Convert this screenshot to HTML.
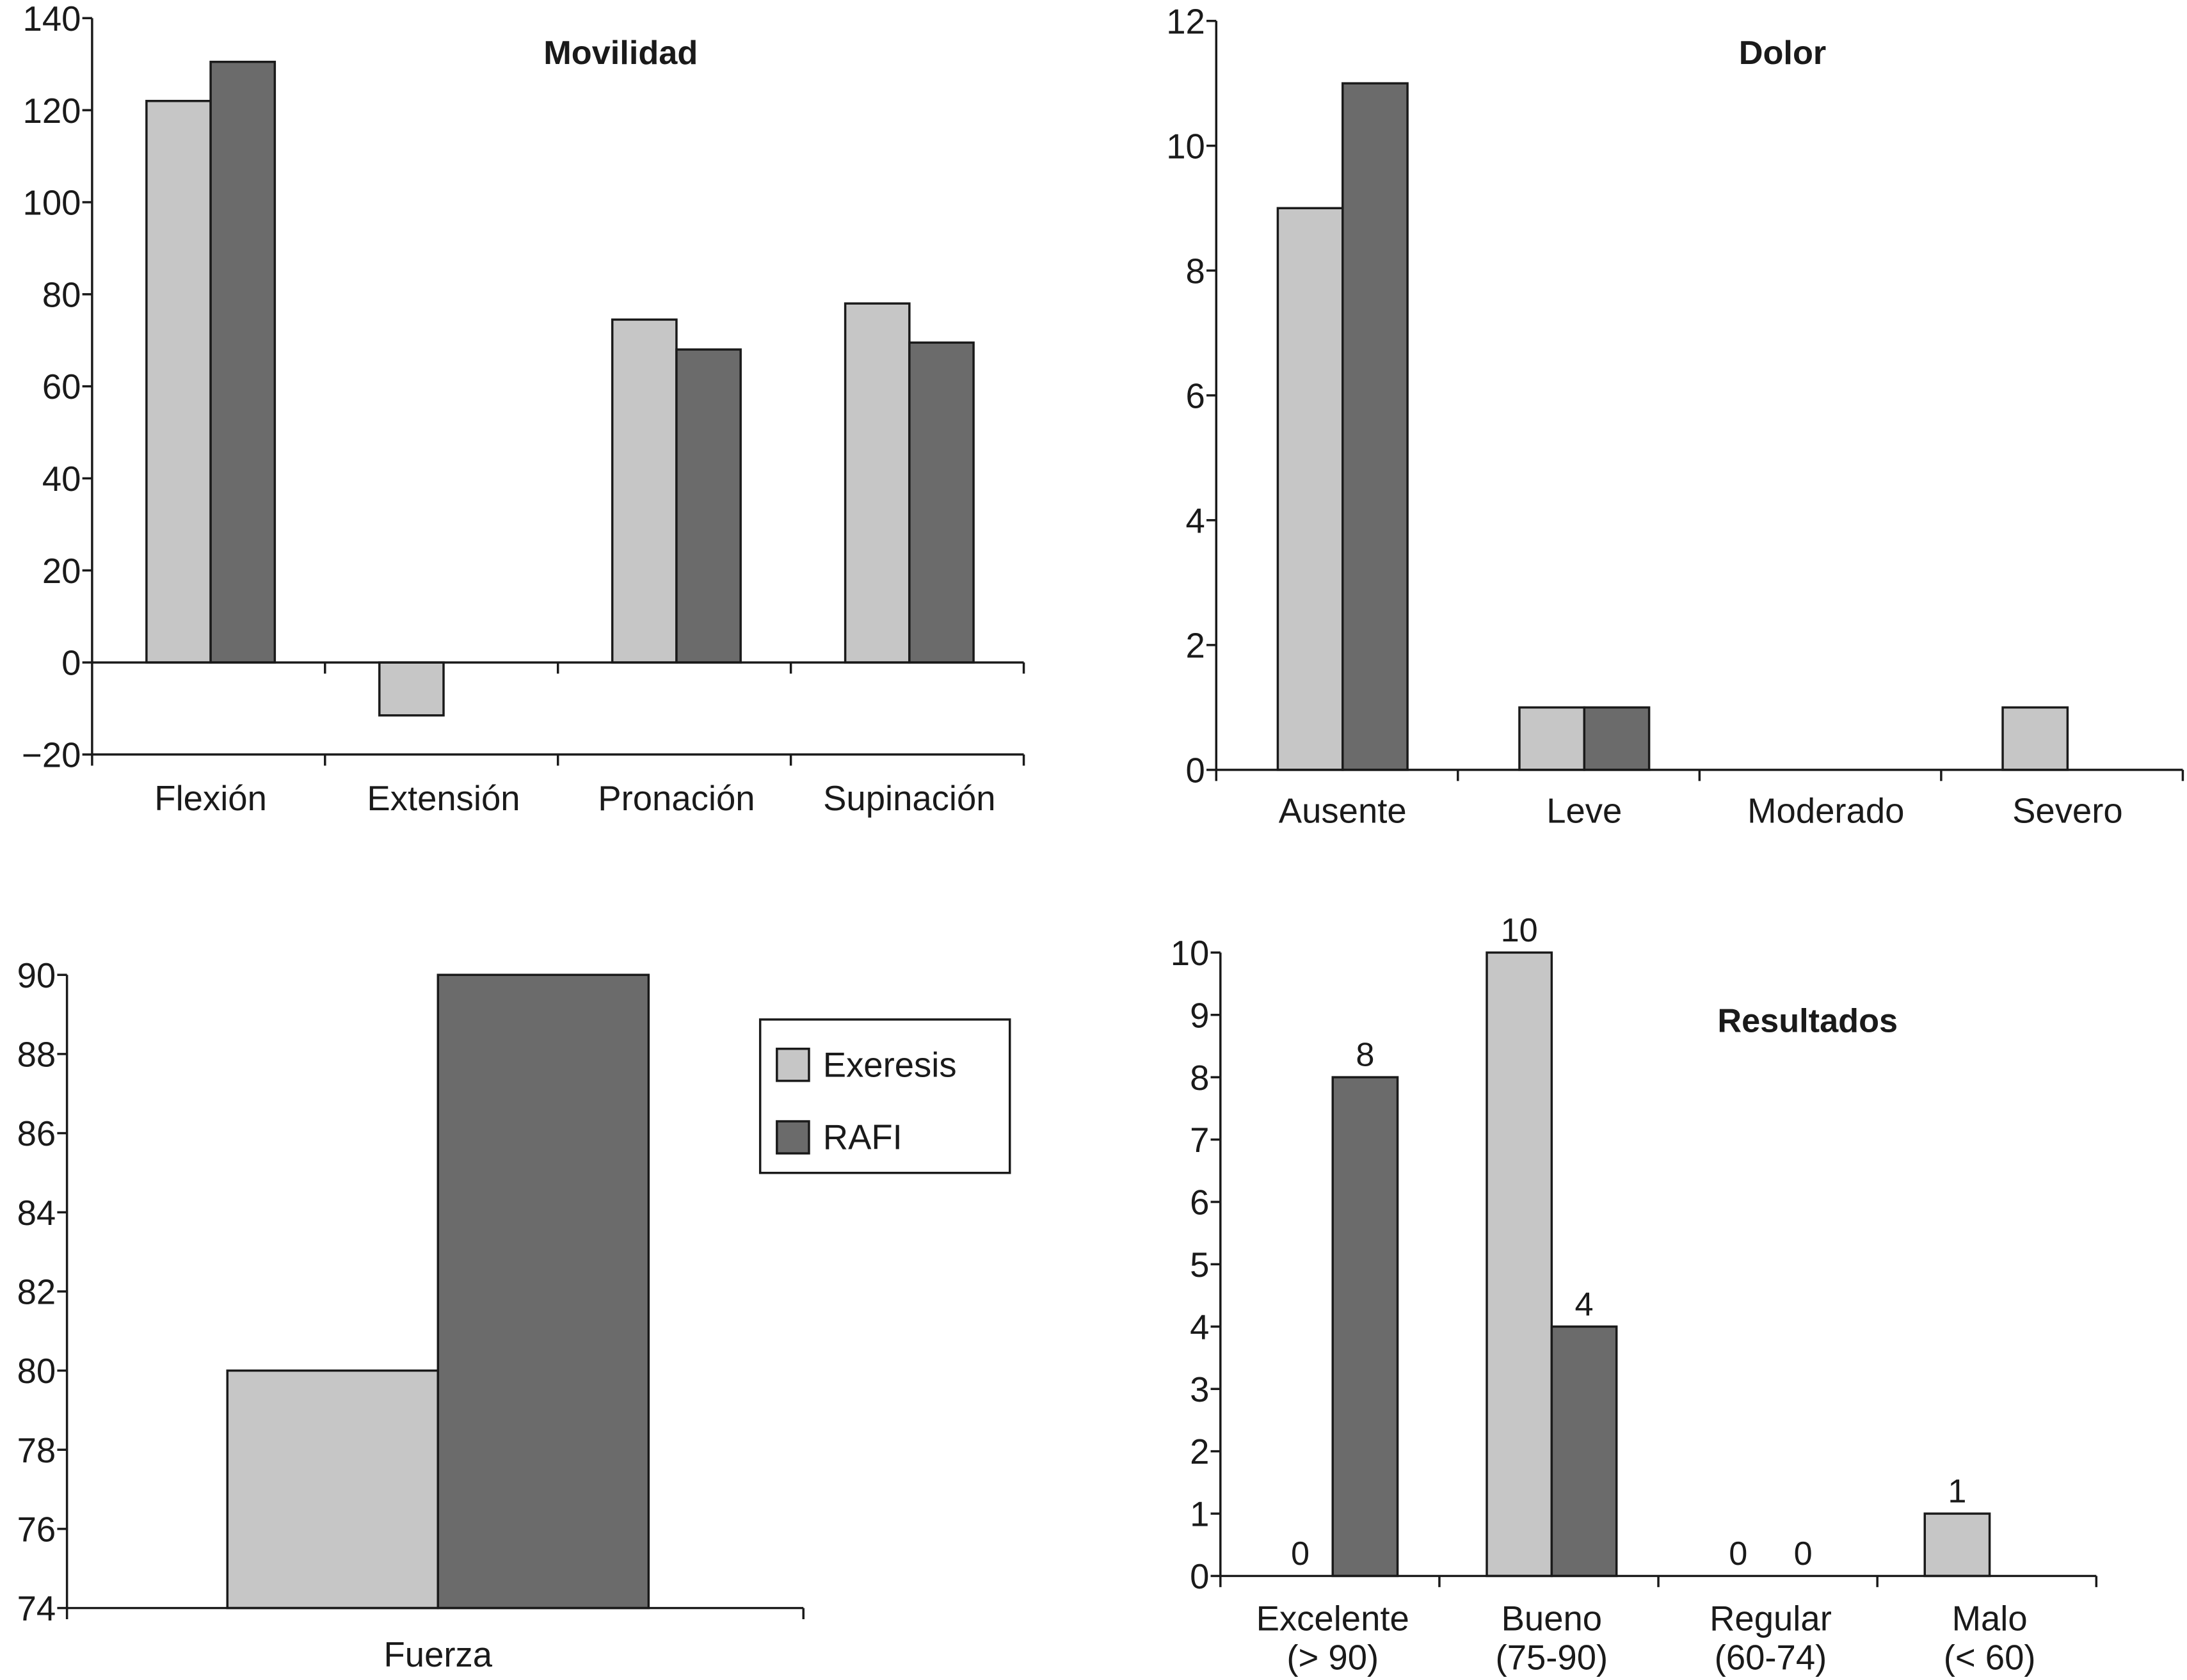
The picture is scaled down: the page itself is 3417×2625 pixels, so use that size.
<!DOCTYPE html>
<html><head><meta charset="utf-8"><style>
html,body{margin:0;padding:0;background:#fff}
svg{display:block}
text{font-family:"Liberation Sans",Arial,sans-serif;fill:#1a1a1a}
</style></head><body>
<svg id="c" width="3417" height="2625" viewBox="0 0 1568 1204.6" xmlns="http://www.w3.org/2000/svg"></svg>
<script>
// Movilidad
const movCats = ["Flexión","Extensión","Pronación","Supinación"];
const movExeresis = [122, -11.5, 74.5, 78];
const movRafi = [130.5, 0, 68, 69.5];
const movTicks = [-20,0,20,40,60,80,100,120,140];
// Dolor
const dolCats = ["Ausente","Leve","Moderado","Severo"];
const dolExeresis = [9, 1, 0, 1];
const dolRafi = [11, 1, 0, 0];
const dolTicks = [0,2,4,6,8,10,12];
// Fuerza
const fueCats = ["Fuerza"];
const fueExeresis = [80];
const fueRafi = [90];
const fueTicks = [74,76,78,80,82,84,86,88,90];
// Resultados
const resCats = [["Excelente","(> 90)"],["Bueno","(75-90)"],["Regular","(60-74)"],["Malo","(< 60)"]];
const resExeresis = [0, 10, 0, 1];
const resRafi = [8, 4, 0, 0];
const resExeresisShown = [true, true, true, true];
const resRafiShown = [true, true, true, false];
const resTicks = [0,1,2,3,4,5,6,7,8,9,10];

const svg = document.getElementById('c');
const NS = "http://www.w3.org/2000/svg";
function el(tag, attrs, parent){
  const e = document.createElementNS(NS, tag);
  for (const k in attrs) e.setAttribute(k, attrs[k]);
  (parent||svg).appendChild(e);
  return e;
}
const LIGHT="#c6c6c6", DARK="#6b6b6b", STROKE="#1a1a1a";

function chart(o){
  const g = el('g', {});
  
  
  const y = v => o.y0 + (v - o.vmin) / (o.vmax - o.vmin) * (o.y1 - o.y0);
  const n = o.cats.length;
  const cw = (o.x1 - o.x0) / n;
  const xc = i => o.x0 + cw * (i + 0.5) + (o.shift || 0);
  const base = y(o.baseVal);
  o.cats.forEach((c, i) => {
    [[o.s1, LIGHT, -1, 'exeresis', o.show1], [o.s2, DARK, 0, 'rafi', o.show2]].forEach(([s, col, off, nm, show]) => {
      const v = s[i];
      const bx = xc(i) + off * o.bw;
      const yv = y(v);
      if (v !== o.baseVal) {
        const r = el('rect', {x: bx, y: Math.min(yv, base), width: o.bw, height: Math.abs(base - yv), fill: col, stroke: STROKE, 'stroke-width': 1.6}, g);
        
        
      }
      if (o.labels && show && show[i]) {
        const t = el('text', {x: bx + o.bw / 2, y: yv - 8, 'text-anchor': 'middle', 'font-size': 24}, g);
        t.textContent = v;
        
        
      }
    });
  });
  el('line', {x1: o.x0, y1: y(o.vmin), x2: o.x0, y2: y(o.vmax), stroke: STROKE, 'stroke-width': 1.6}, g);
  o.ticks.forEach(t => {
    el('line', {x1: o.x0 - 7, y1: y(t), x2: o.x0, y2: y(t), stroke: STROKE, 'stroke-width': 1.6}, g);
    const tx = el('text', {x: o.x0 - 8, y: y(t) + 9, 'text-anchor': 'end', 'font-size': 25}, g);
    tx.textContent = t < 0 ? '\u2212' + Math.abs(t) : t;
    
    
  });
  el('line', {x1: o.x0, y1: base, x2: o.x1, y2: base, stroke: STROKE, 'stroke-width': 1.6}, g);
  const axY = y(o.vmin);
  if (o.vmin !== o.baseVal) el('line', {x1: o.x0, y1: axY, x2: o.x1, y2: axY, stroke: STROKE, 'stroke-width': 1.6}, g);
  for (let i = 0; i <= n; i++) {
    el('line', {x1: o.x0 + cw * i, y1: axY, x2: o.x0 + cw * i, y2: axY + 8, stroke: STROKE, 'stroke-width': 1.6}, g);
    if (o.vmin !== o.baseVal && i > 0) el('line', {x1: o.x0 + cw * i, y1: base, x2: o.x0 + cw * i, y2: base + 8, stroke: STROKE, 'stroke-width': 1.6}, g);
  }
  o.cats.forEach((c, i) => {
    const lines = Array.isArray(c) ? c : [c];
    lines.forEach((ln, j) => {
      const t = el('text', {x: xc(i), y: axY + o.labOff + j * 28, 'text-anchor': 'middle', 'font-size': 25}, g);
      t.textContent = ln;
      
      
    });
  });
  if (o.title) {
    const t = el('text', {x: o.tx, y: o.ty, 'text-anchor': 'middle', 'font-size': 24, 'font-weight': 'bold'}, g);
    t.textContent = o.title;
    
    
  }
}

chart({name:'movilidad-chart', cats:movCats, s1:movExeresis, s2:movRafi, ticks:movTicks, vmin:-20, vmax:140, baseVal:0, y0:541, y1:13, x0:66, x1:734, bw:46, shift:1.5, labOff:40, title:'Movilidad', tx:445, ty:46});
chart({name:'dolor-chart', cats:dolCats, s1:dolExeresis, s2:dolRafi, ticks:dolTicks, vmin:0, vmax:12, baseVal:0, y0:552, y1:15, x0:872, x1:1565, bw:46.5, shift:4, labOff:38, title:'Dolor', tx:1278, ty:46});
chart({name:'fuerza-chart', cats:fueCats, s1:fueExeresis, s2:fueRafi, ticks:fueTicks, vmin:74, vmax:90, baseVal:74, y0:1153, y1:699, x0:48, x1:576, bw:151, shift:2, labOff:42});
chart({name:'resultados-chart', cats:resCats, s1:resExeresis, s2:resRafi, show1:resExeresisShown, show2:resRafiShown, ticks:resTicks, vmin:0, vmax:10, baseVal:0, y0:1130, y1:683, x0:875, x1:1503, bw:46.5, shift:2, labOff:39, labels:true, title:'Resultados', tx:1296, ty:740});

const lg = el('g', {});


el('rect', {x:545, y:731, width:179, height:110, fill:'#fff', stroke:STROKE, 'stroke-width':1.6}, lg);
[['Exeresis', LIGHT, 752], ['RAFI', DARK, 804]].forEach(([nm, col, yy]) => {
  const s = el('rect', {x:557, y:yy, width:23, height:23, fill:col, stroke:STROKE, 'stroke-width':1.6}, lg);
  
  
  const t = el('text', {x:590, y:yy + 20, 'font-size':25}, lg);
  t.textContent = nm;
  
  
});
</script>
</body></html>
